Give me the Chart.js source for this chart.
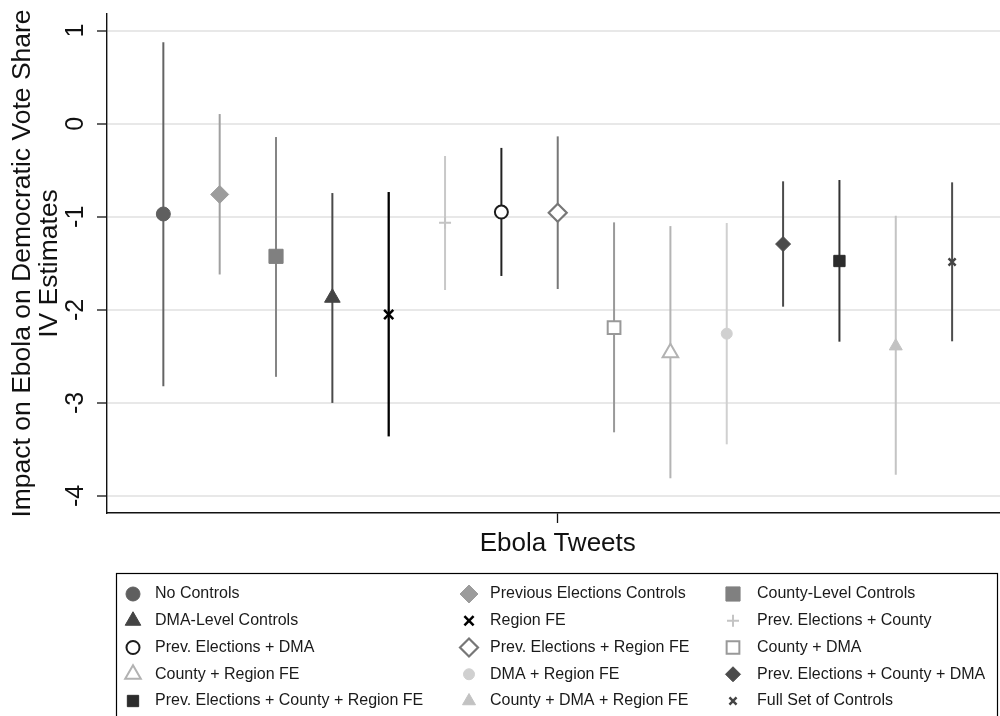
<!DOCTYPE html>
<html>
<head>
<meta charset="utf-8">
<script src="https://cdn.jsdelivr.net/npm/chart.js@4/dist/chart.umd.min.js"></script>
<style>
html, body { margin: 0; padding: 0; background: #fff; }
canvas { display: block; }
</style>
</head>
<body>
<canvas id="c" width="1000" height="716"></canvas>
<script>
// Specifications (one coefficient + 95% CI each)
const specifications = [
  'No Controls', 'Previous Elections Controls', 'County-Level Controls',
  'DMA-Level Controls', 'Region FE', 'Prev. Elections + County',
  'Prev. Elections + DMA', 'Prev. Elections + Region FE', 'County + DMA',
  'County + Region FE', 'DMA + Region FE', 'Prev. Elections + County + DMA',
  'Prev. Elections + County + Region FE', 'County + DMA + Region FE', 'Full Set of Controls'
];
const estimates = [-0.97, -0.76, -1.425, -1.87, -2.05, -1.063, -0.949, -0.956, -2.19, -2.46, -2.256, -1.293, -1.475, -2.39, -1.486];
const ciLower   = [-2.82, -1.62, -2.72, -3.00, -3.36, -1.787, -1.636, -1.776, -3.316, -3.81, -3.445, -1.966, -2.342, -3.771, -2.338];
const ciUpper   = [0.875, 0.104, -0.143, -0.745, -0.734, -0.347, -0.26, -0.136, -1.06, -1.10, -1.067, -0.619, -0.605, -0.989, -0.63];

const yTickValues = [-4, -3, -2, -1, 0, 1];
const xCategory = 'Ebola Tweets';
const yTitle = ['Impact on Ebola on Democratic Vote Share', 'IV Estimates'];

// Marker appearance per specification
const markerStyles = [
  { pointStyle: 'circle',   radius: 7,   color: '#5f5f5f', fill: true,  bw: 1,   line: '#646464', lw: 2 },
  { pointStyle: 'rectRot',  radius: 9,   color: '#9c9c9c', fill: true,  bw: 1,   line: '#a0a0a0', lw: 2 },
  { pointStyle: 'rect',     radius: 10,  color: '#808080', fill: true,  bw: 1,   line: '#858585', lw: 2 },
  { pointStyle: 'triangle', radius: 9,   color: '#444444', fill: true,  bw: 1,   line: '#4a4a4a', lw: 2 },
  { pointStyle: 'crossRot', radius: 6.5, color: '#000000', fill: false, bw: 2.5, line: '#000000', lw: 2.3 },
  { pointStyle: 'cross',    radius: 6,   color: '#c4c4c4', fill: false, bw: 2,   line: '#c8c8c8', lw: 2 },
  { pointStyle: 'circle',   radius: 6.5, color: '#1c1c1c', fill: false, bw: 2,   line: '#222222', lw: 2 },
  { pointStyle: 'rectRot',  radius: 9,   color: '#777777', fill: false, bw: 2.2, line: '#777777', lw: 2 },
  { pointStyle: 'rect',     radius: 9,   color: '#999999', fill: false, bw: 2,   line: '#999999', lw: 2 },
  { pointStyle: 'triangle', radius: 9,   color: '#b2b2b2', fill: false, bw: 2,   line: '#b4b4b4', lw: 2 },
  { pointStyle: 'circle',   radius: 5.5, color: '#d0d0d0', fill: true,  bw: 1,   line: '#d0d0d0', lw: 2 },
  { pointStyle: 'rectRot',  radius: 7.5, color: '#4b4b4b', fill: true,  bw: 1,   line: '#4b4b4b', lw: 2 },
  { pointStyle: 'rect',     radius: 8,   color: '#2c2c2c', fill: true,  bw: 1,   line: '#333333', lw: 2 },
  { pointStyle: 'triangle', radius: 7.5, color: '#c2c2c2', fill: true,  bw: 1,   line: '#c4c4c4', lw: 2 },
  { pointStyle: 'crossRot', radius: 5,   color: '#444444', fill: false, bw: 2.5, line: '#4d4d4d', lw: 2 }
];

const FONT = "'Liberation Sans', Arial, Helvetica, sans-serif";

const datasets = [];
specifications.forEach((name, i) => {
  const s = markerStyles[i];
  datasets.push({
    type: 'line',
    label: name + ' (95% CI)',
    data: [{ x: i, y: ciLower[i] }, { x: i, y: ciUpper[i] }],
    borderColor: s.line,
    borderWidth: s.lw,
    pointRadius: 0,
    fill: false,
    order: 1
  });
  datasets.push({
    type: 'scatter',
    label: name,
    data: [{ x: i, y: estimates[i] }],
    pointStyle: s.pointStyle,
    pointRadius: s.radius,
    pointBackgroundColor: s.fill ? s.color : '#ffffff',
    pointBorderColor: s.color,
    pointBorderWidth: s.bw,
    order: 0
  });
});

// Boxed three-column legend drawn under the plot
const boxedLegend = {
  id: 'boxedLegend',
  afterDraw(chart) {
    const ctx = chart.ctx;
    const box = { left: 116, top: 573, right: 997, bottom: 730 };
    const symbolX = [133, 469, 733];
    const textX = [155, 490, 757];
    const rowY0 = 594, rowStep = 26.75;
    ctx.save();
    ctx.strokeStyle = '#000';
    ctx.lineWidth = 1.2;
    ctx.strokeRect(box.left + 0.5, box.top + 0.5, box.right - box.left, box.bottom - box.top);
    ctx.font = '16px ' + FONT;
    ctx.textBaseline = 'middle';
    ctx.textAlign = 'left';
    specifications.forEach((name, k) => {
      const row = Math.floor(k / 3), col = k % 3;
      const y = rowY0 + row * rowStep;
      const s = markerStyles[k];
      ctx.save();
      ctx.fillStyle = s.fill ? s.color : '#ffffff';
      ctx.strokeStyle = s.color;
      ctx.lineWidth = s.bw;
      Chart.helpers.drawPoint(ctx, { pointStyle: s.pointStyle, radius: s.radius, borderWidth: s.bw, rotation: 0 }, symbolX[col], y);
      ctx.restore();
      ctx.fillStyle = '#1a1a1a';
      ctx.fillText(name, textX[col], y);
    });
    ctx.restore();
  }
};

new Chart(document.getElementById('c'), {
  data: { datasets },
  options: {
    responsive: false,
    devicePixelRatio: 1,
    animation: false,
    events: [],
    layout: { autoPadding: false, padding: { left: 0, right: 0, top: 14, bottom: 0 } },
    plugins: { legend: { display: false }, tooltip: { enabled: false } },
    scales: {
      x: {
        type: 'linear',
        min: -1,
        max: 14.85,
        afterBuildTicks(scale) { scale.ticks = [{ value: (specifications.length - 1) / 2 }]; },
        afterFit(scale) { scale.height = 203; scale.paddingLeft = 0; scale.paddingRight = 0; },
        ticks: {
          callback: () => xCategory,
          color: '#111',
          font: { family: FONT, size: 26 },
          padding: 5,
          maxRotation: 0,
          minRotation: 0
        },
        grid: { drawOnChartArea: false, drawTicks: true, tickLength: 10, tickColor: '#111', tickWidth: 1.3 },
        border: { display: true, color: '#111', width: 1.4 }
      },
      y: {
        type: 'linear',
        min: -4.183,
        max: 1.179,
        afterBuildTicks(scale) { scale.ticks = yTickValues.map(v => ({ value: v })); },
        afterFit(scale) { scale.width = 107; scale.paddingTop = 0; scale.paddingBottom = 0; },
        ticks: {
          color: '#111',
          font: { family: FONT, size: 25 },
          minRotation: 90,
          maxRotation: 90,
          crossAlign: 'center',
          padding: 10
        },
        grid: { color: '#e8e8e8', lineWidth: 2, tickLength: 10, tickColor: '#111', tickWidth: 1.3 },
        border: { display: true, color: '#111', width: 1.4 },
        title: {
          display: true,
          text: yTitle,
          color: '#111',
          font: { family: FONT, size: 26.5, lineHeight: 1.02 },
          padding: { top: 9.5, bottom: 0 }
        }
      }
    }
  },
  plugins: [boxedLegend]
});
</script>
</body>
</html>
